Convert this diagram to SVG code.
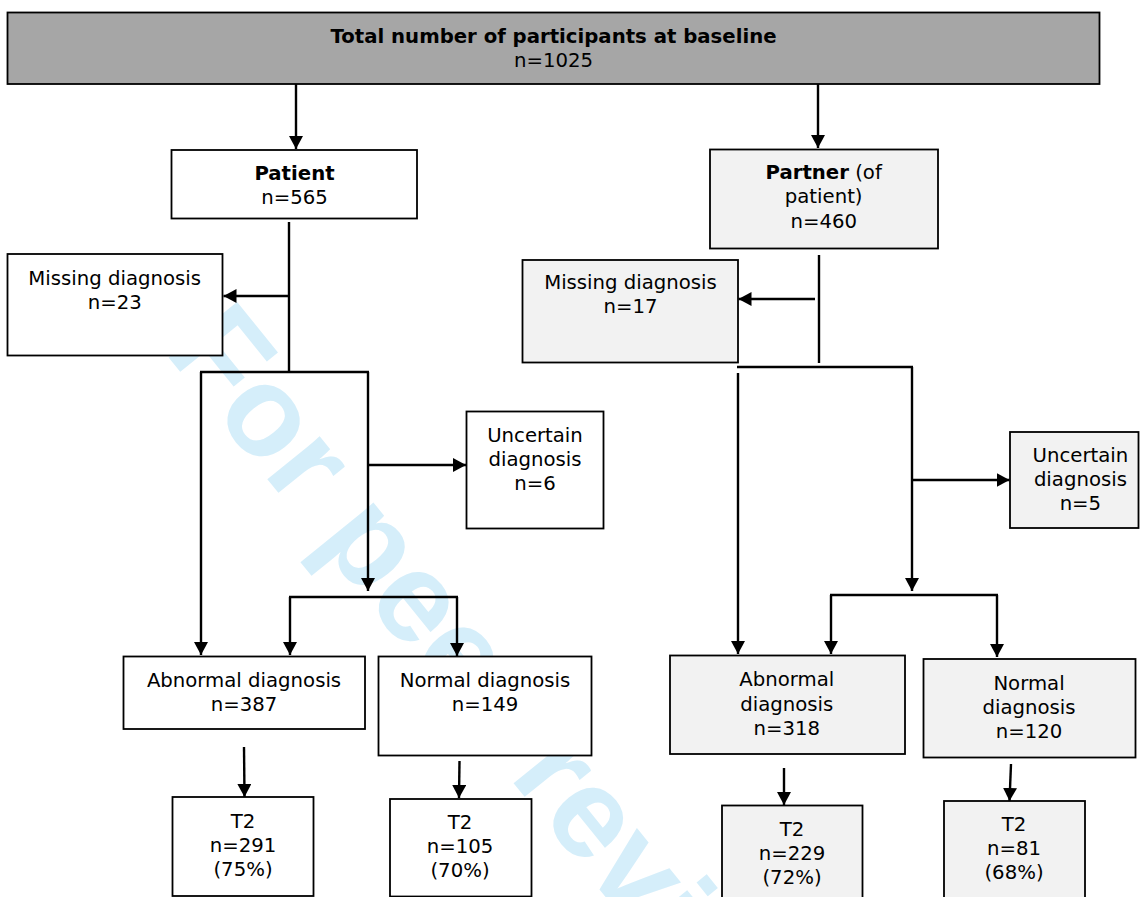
<svg xmlns="http://www.w3.org/2000/svg" width="1140" height="897" viewBox="0 0 1140 897">
<style>
.bx{stroke:#000;stroke-width:1.8;fill:#fff}
.gr{fill:#f2f2f2}
.top{fill:#a6a6a6}
.t{font-family:"DejaVu Sans",Verdana,sans-serif;font-size:19.7px;fill:#000;text-anchor:middle}
.b{font-weight:bold}
.c line{stroke:#000;stroke-width:2.4;fill:none}
.wm{font-family:"Liberation Sans",Arial,sans-serif;font-weight:bold;font-size:128px;fill:#d5eefa}
</style>
<defs>
<marker id="ah" markerUnits="userSpaceOnUse" markerWidth="15" markerHeight="15" refX="13" refY="7" orient="auto">
<path d="M0,0 L13,7 L0,14 z" fill="#000"/>
</marker>
</defs>
<rect width="1140" height="897" fill="#fff"/>
<text class="wm" transform="translate(163.3,350.7) rotate(51)">For peer review</text>

<g id="total">
<rect class="bx top" x="7.5" y="12.5" width="1092" height="71.5"/>
<text class="t b" x="553.5" y="43">Total number of participants at baseline</text>
<text class="t" x="553.5" y="67">n=1025</text>
</g>
<g id="patient">
<rect class="bx" x="171.5" y="150" width="245.5" height="68.5"/>
<text class="t b" x="294.5" y="180">Patient</text>
<text class="t" x="294.5" y="204">n=565</text>
</g>
<g id="partner">
<rect class="bx gr" x="710" y="149.5" width="228" height="99"/>
<text class="t" x="823.7" y="179"><tspan class="b">Partner</tspan> (of</text>
<text class="t" x="823.7" y="203">patient)</text>
<text class="t" x="823.7" y="227.5">n=460</text>
</g>
<g id="missing-patient">
<rect class="bx" x="7.5" y="254" width="215" height="101.5"/>
<text class="t" x="114.7" y="284.5">Missing diagnosis</text>
<text class="t" x="114.7" y="308.5">n=23</text>
</g>
<g id="missing-partner">
<rect class="bx gr" x="522.5" y="260" width="215.5" height="102.5"/>
<text class="t" x="630.5" y="289">Missing diagnosis</text>
<text class="t" x="630.5" y="313">n=17</text>
</g>
<g id="uncertain-patient">
<rect class="bx" x="466.5" y="411.5" width="137" height="117"/>
<text class="t" x="535" y="442">Uncertain</text>
<text class="t" x="535" y="466">diagnosis</text>
<text class="t" x="535" y="490">n=6</text>
</g>
<g id="uncertain-partner">
<rect class="bx gr" x="1010" y="432" width="128.5" height="96"/>
<text class="t" x="1080.4" y="461.7">Uncertain</text>
<text class="t" x="1080.4" y="485.7">diagnosis</text>
<text class="t" x="1080.4" y="509.5">n=5</text>
</g>
<g id="abnormal-patient">
<rect class="bx" x="123.5" y="656.5" width="241.5" height="72.5"/>
<text class="t" x="244" y="687">Abnormal diagnosis</text>
<text class="t" x="244" y="711">n=387</text>
</g>
<g id="normal-patient">
<rect class="bx" x="378.5" y="656.5" width="213" height="99"/>
<text class="t" x="485" y="687">Normal diagnosis</text>
<text class="t" x="485" y="711">n=149</text>
</g>
<g id="abnormal-partner">
<rect class="bx gr" x="670" y="655.5" width="235" height="98.5"/>
<text class="t" x="786.7" y="686">Abnormal</text>
<text class="t" x="786.7" y="710.5">diagnosis</text>
<text class="t" x="786.7" y="735">n=318</text>
</g>
<g id="normal-partner">
<rect class="bx gr" x="923.5" y="659" width="212" height="98.5"/>
<text class="t" x="1029" y="689.5">Normal</text>
<text class="t" x="1029" y="714">diagnosis</text>
<text class="t" x="1029" y="738">n=120</text>
</g>
<g id="t2-abnormal-patient">
<rect class="bx" x="172.5" y="797" width="141" height="99"/>
<text class="t" x="243" y="827.5">T2</text>
<text class="t" x="243" y="851.5">n=291</text>
<text class="t" x="243" y="875.5">(75%)</text>
</g>
<g id="t2-normal-patient">
<rect class="bx" x="390" y="799" width="141.5" height="97.5"/>
<text class="t" x="460" y="828.5">T2</text>
<text class="t" x="460" y="852.5">n=105</text>
<text class="t" x="460" y="876.5">(70%)</text>
</g>
<g id="t2-abnormal-partner">
<rect class="bx gr" x="722" y="805.5" width="140.5" height="95"/>
<text class="t" x="792" y="836">T2</text>
<text class="t" x="792" y="860">n=229</text>
<text class="t" x="792" y="884">(72%)</text>
</g>
<g id="t2-normal-partner">
<rect class="bx gr" x="944" y="801" width="141" height="99"/>
<text class="t" x="1014" y="831">T2</text>
<text class="t" x="1014" y="855">n=81</text>
<text class="t" x="1014" y="879">(68%)</text>
</g>

<g id="connectors" class="c">
<line x1="296" y1="84" x2="296" y2="149" marker-end="url(#ah)"/>
<line x1="818" y1="84" x2="818" y2="148" marker-end="url(#ah)"/>
<line x1="289" y1="222" x2="289" y2="373"/>
<line x1="289" y1="296" x2="223.5" y2="296" marker-end="url(#ah)"/>
<line x1="200" y1="372" x2="369" y2="372"/>
<line x1="201" y1="372" x2="201" y2="655" marker-end="url(#ah)"/>
<line x1="368" y1="372" x2="368" y2="591" marker-end="url(#ah)"/>
<line x1="368" y1="465" x2="466" y2="465" marker-end="url(#ah)"/>
<line x1="289" y1="597" x2="458" y2="597"/>
<line x1="290" y1="597" x2="290" y2="655" marker-end="url(#ah)"/>
<line x1="457" y1="597" x2="457" y2="656" marker-end="url(#ah)"/>
<line x1="244" y1="747" x2="244.5" y2="797" marker-end="url(#ah)"/>
<line x1="459.5" y1="761" x2="459" y2="798" marker-end="url(#ah)"/>
<line x1="819" y1="255" x2="819" y2="363"/>
<line x1="815" y1="299" x2="738.5" y2="299" marker-end="url(#ah)"/>
<line x1="737" y1="367" x2="913" y2="367"/>
<line x1="738" y1="373" x2="738" y2="654" marker-end="url(#ah)"/>
<line x1="912" y1="367" x2="912" y2="591" marker-end="url(#ah)"/>
<line x1="912" y1="480" x2="1009.5" y2="480" marker-end="url(#ah)"/>
<line x1="830" y1="595" x2="998" y2="595"/>
<line x1="831" y1="595" x2="831" y2="654" marker-end="url(#ah)"/>
<line x1="997" y1="595" x2="997" y2="657" marker-end="url(#ah)"/>
<line x1="784" y1="768" x2="784" y2="805" marker-end="url(#ah)"/>
<line x1="1011" y1="764" x2="1009.5" y2="801" marker-end="url(#ah)"/>
</g>
</svg>
